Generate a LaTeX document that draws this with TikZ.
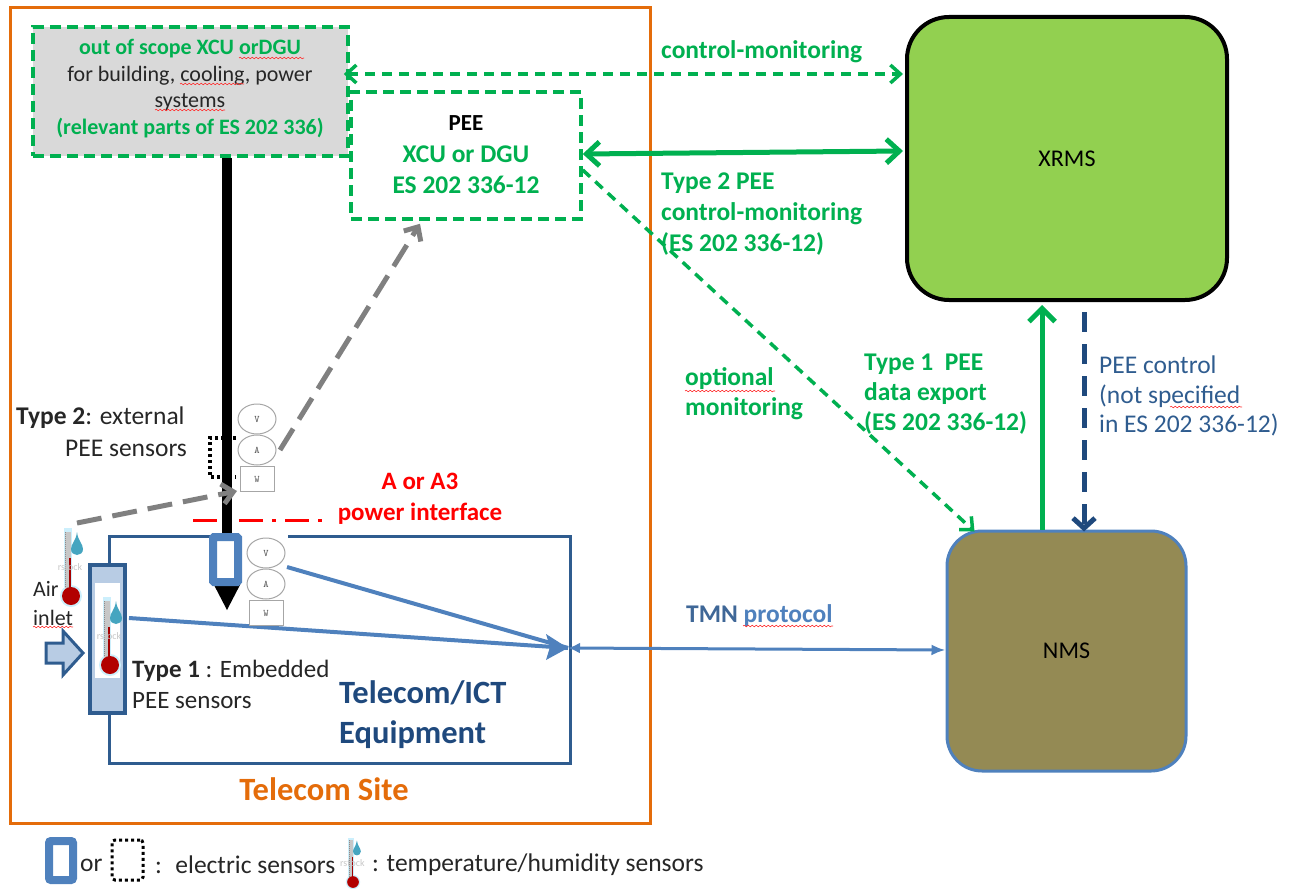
\documentclass[tikz,border=0pt]{standalone}
\usepackage{fontspec}
\setmainfont{Carlito}
\usetikzlibrary{arrows.meta,decorations.pathmorphing,calc,shapes.geometric}
\definecolor{grn}{HTML}{00B050}
\definecolor{org}{HTML}{E46C0A}
\definecolor{blu}{HTML}{4F81BD}
\definecolor{nvy}{HTML}{2F5C8F}
\definecolor{dnv}{HTML}{1F497D}
\definecolor{lbl}{HTML}{B8CCE4}
\definecolor{xg}{HTML}{92D050}
\definecolor{nm}{HTML}{948A54}
\definecolor{gy}{HTML}{808080}
\definecolor{drop}{HTML}{45A5C0}
\tikzset{
 x=1pt,y=-1pt,
 txt/.style={font=\fontsize{25.5}{30}\selectfont,align=left,inner sep=0pt,text=black!85},
 gtxt/.style={txt,font=\fontsize{25.5}{30}\selectfont\bfseries,text=grn},
 small/.style={txt,font=\fontsize{22}{26}\selectfont},
 gsmall/.style={txt,font=\fontsize{22}{26}\selectfont\bfseries,text=grn},
 dashbox/.style={draw=grn,line width=3.5pt,dash pattern=on 11pt off 6pt,inner sep=0pt,minimum width=#1},
 gdash/.style={draw=grn,line width=3.5pt,dash pattern=on 10pt off 7pt},
 sq/.style={draw=red!80,line width=.6pt,decorate,decoration={snake,amplitude=.8pt,segment length=4pt}},
 sensor/.style={draw=black!35,line width=1pt,inner sep=0pt,font=\fontsize{10}{10}\ttfamily,text=black!70},
 pics/meter/.style={code={
  \node[sensor,ellipse,fill=white,minimum width=38pt,minimum height=30pt] at (0,0) {V};
  \node[sensor,ellipse,fill=white,minimum width=38pt,minimum height=30pt] at (0,31) {A};
  \node[sensor,rectangle,fill=white,minimum width=34pt,minimum height=25pt] at (0,60) {W};
 }},
 pics/thermo/.style={code={
  \fill[cyan!20!white] (-7,-68) rectangle (1,-5);
  \fill[cyan!20!white] (0,0) circle (11);
  \fill[black!22] (-6,-64) rectangle (0,-5);
  \draw[black!45,line width=1pt,dash pattern=on 1pt off 1pt] (-6,-64) -- (-6,-8);
  \fill[red!65!black] (-2,-38) rectangle (0,-5);
  \fill[red!70!black] (0,0) circle (9);
  \fill[drop] (6,-64) .. controls (5,-55) and (0,-52) .. (0,-47) .. controls (0,-39) and (12,-39) .. (12,-47) .. controls (12,-52) and (7,-55) .. (6,-64) -- cycle;
  \node[inner sep=0pt,font=\fontsize{10}{10}\selectfont,text=black!22] at (-1,-29) {rstock};
 }}
}
\begin{document}
\begin{tikzpicture}
\useasboundingbox (0,0) rectangle (1289,888);
% site
\node[draw=org,line width=3pt,minimum width=640pt,minimum height=815pt,inner sep=0pt] (site) at (330,415.5) {};
% equipment
\draw[nvy,line width=3pt] (109,565) -- (109,536) -- (215,536);
\draw[nvy,line width=3pt] (288,536) -- (570,536) -- (570,763) -- (109,763) -- (109,713);
\coordinate (eqport) at (568,648);
% scope box
\node[dashbox=315pt,fill=black!15,minimum height=129pt] (scope) at (190.5,91.5) {};
\node[gsmall,align=center] at (190,49) {out of scope XCU orDGU};
\node[small,align=center] at (190,89) {for building, cooling, power\\systems};
\node[gsmall,align=center] at (190,128) {(relevant parts of ES 202 336)};
\draw[sq] (239,58) -- (304,58);
\draw[sq] (180,84) -- (244,84);
\draw[sq] (155,110) -- (225,110);
% PEE
\node[dashbox=230pt,fill=white,minimum height=127pt] (pee) at (466,155.5) {};
\node[gtxt,align=center,text=black,font=\fontsize{23}{28}\selectfont\bfseries] at (466,123) {PEE};
\node[gtxt,align=center,font=\fontsize{25.5}{31}\selectfont\bfseries] at (466,170) {XCU or DGU\\ES 202 336-12};
% XRMS, NMS
\node[draw=black,fill=xg,line width=4pt,rounded corners=42pt,minimum width=320pt,minimum height=283pt,inner sep=0pt,font=\fontsize{24}{28}\selectfont] (xrms) at (1067,158.5) {XRMS};
\node[draw=blu,fill=nm,line width=3pt,rounded corners=35pt,minimum width=239pt,minimum height=240pt,inner sep=0pt,font=\fontsize{24}{28}\selectfont] (nms) at (1066.5,651) {NMS};
% red interface
\draw[red,line width=3pt,dash pattern=on 24pt off 9pt on 4pt off 9pt] (193,520) -- (325,520);
% power line
\draw[black,line width=10pt] (scope.south -| 227,156) -- (227,584);
\fill[black] (213,583) -- (241,583) -- (227,610) -- cycle;
\draw[blu,line width=8pt,fill=white,rounded corners=1pt] (213,537) rectangle (238,582);
% tall blue sensor
\node[draw=nvy,fill=lbl,line width=4pt,minimum width=35pt,minimum height=148pt,inner sep=0pt] (tall) at (107.5,639) {};
\fill[white] (95,583) rectangle (120,678);
\pic at (110,665) {thermo};
\pic at (71,596) {thermo};
\coordinate (thermoTop) at (77,523);
\coordinate (meterIn) at (237,491);
% blue lines
\draw[blu,line width=4pt] (287,567) -- (eqport);
\draw[blu,line width=4pt] ([xshift=2pt,yshift=21pt]tall.east) -- (eqport);
\fill[blu] (568,648) -- (546,634) -- (550,647) -- (546,660) -- cycle;
\draw[blu,line width=3pt,{Latex[length=12pt,width=11pt]}-{Latex[length=14pt,width=11pt]}] (eqport) -- ([yshift=1pt]nms.west);
% sensors
\pic at (257,419) {meter};
\node[sensor,draw=none,minimum size=0pt] (extmeter) at (257,450) {};
\pic at (266,553) {meter};
\draw[black,line width=3.5pt,dash pattern=on 3pt off 3pt] (236,438) -- (210,438) -- (210,477) -- (236,477);
% air arrow
\draw[nvy,fill=lbl,line width=3pt] (46,643) -- (63,643) -- (63,631) -- (83,653) -- (63,675) -- (63,663) -- (46,663) -- cycle;
% gray dashes
\draw[gy,line width=5pt,dash pattern=on 25pt off 11pt,-{Straight Barb[length=11pt,width=20pt]}] (thermoTop) -- (meterIn);
\draw[gy,line width=5pt,dash pattern=on 25pt off 11pt,-{Straight Barb[length=11pt,width=20pt]}] ([xshift=23pt]extmeter.center) -- ([xshift=-46pt,yshift=-3pt]pee.south);
% green connectors
\draw[gdash,{Straight Barb[length=10pt,width=18pt]}-{Straight Barb[length=10pt,width=18pt]}] ([yshift=17.5pt,xshift=-6pt]scope.east) -- ([yshift=84.5pt,xshift=-2pt]xrms.west);
\draw[grn,line width=5pt,{Straight Barb[length=13pt,width=24pt]}-{Straight Barb[length=13pt,width=24pt]}] ([yshift=1.5pt]pee.east) -- ([yshift=7.5pt,xshift=-2pt]xrms.west);
\draw[gdash,-{Straight Barb[length=10pt,width=18pt]}] ([yshift=-14.5pt]pee.east) -- ([xshift=-92pt,yshift=-2pt]nms.north);
\draw[grn,line width=5pt,-{Straight Barb[length=13pt,width=26pt]}] ([xshift=-24.5pt]nms.north) -- ([xshift=-25pt,yshift=-3pt]xrms.south);
\draw[dnv,line width=5pt,dash pattern=on 20pt off 12pt,-{Straight Barb[length=10pt,width=22pt]}] ([xshift=17pt,yshift=-10pt]xrms.south) -- ([xshift=17.5pt,yshift=-2pt]nms.north);
% texts
\node[txt,anchor=west] at (16,418) {\textbf{Type 2}: external};
\node[txt,anchor=west] at (65,448) {PEE sensors};
\node[small,anchor=west,font=\fontsize{22}{29}\selectfont] at (33,604) {Air\\inlet};
\draw[sq] (33,627) -- (73,627);
\node[txt,anchor=north west,font=\fontsize{25}{31}\selectfont] at (132,660) {\textbf{Type 1} : Embedded\\PEE sensors};
\node[txt,anchor=north west,font=\fontsize{32.5}{40}\selectfont\bfseries,text=dnv] at (339,680) {Telecom/ICT\\Equipment};
\node[txt,font=\fontsize{32.5}{38}\selectfont\bfseries,text=org] at (324,789) {Telecom Site};
\node[txt,align=center,font=\fontsize{25}{31}\selectfont\bfseries,text=red] at (420,499) {A or A3\\power interface};
\node[gtxt,anchor=west] at (661,52) {control-monitoring};
\node[gtxt,anchor=north west,font=\fontsize{25.5}{31}\selectfont\bfseries] at (661,173) {Type 2 PEE\\control-monitoring\\(ES 202 336-12)};
\node[gtxt,anchor=north west,font=\fontsize{25.5}{30}\selectfont\bfseries] at (685,367) {optional\\monitoring};
\draw[sq] (685,391) -- (775,391);
\node[gtxt,anchor=north west,font=\fontsize{25.5}{30}\selectfont\bfseries] at (864,354) {Type 1~ PEE\\data export\\(ES 202 336-12)};
\node[txt,anchor=north west,font=\fontsize{25.5}{29.5}\selectfont,text=nvy] at (1099,356) {PEE control\\(not specified\\in ES 202 336-12)};
\draw[sq] (1170,407) -- (1242,407);
\node[txt,anchor=west,font=\fontsize{25.5}{30}\selectfont\bfseries,text=blu!80!black] at (686,616) {TMN \textcolor{blu}{protocol}};
\draw[sq] (743,626) -- (833,626);
% legend
\node[draw=blu,line width=8pt,rounded corners=2pt,minimum width=24pt,minimum height=39pt,inner sep=0pt] (legA) at (61,860.5) {};
\node[txt,anchor=west] (legOr) at (80,865) {or};
\node[draw=black,line width=3pt,dash pattern=on 3pt off 3pt,rounded corners=3pt,minimum width=31pt,minimum height=40pt,inner sep=0pt] (legB) at (127.5,860) {};
\node[txt,anchor=west] at (155,865) {:~ electric sensors};
\begin{scope}
\clip (340,836) rectangle (368,888);
\pic[scale=.65] at (353,882) {thermo};
\end{scope}
\node[txt,anchor=west] at (372,865) {: temperature/humidity sensors};
\end{tikzpicture}
\end{document}
